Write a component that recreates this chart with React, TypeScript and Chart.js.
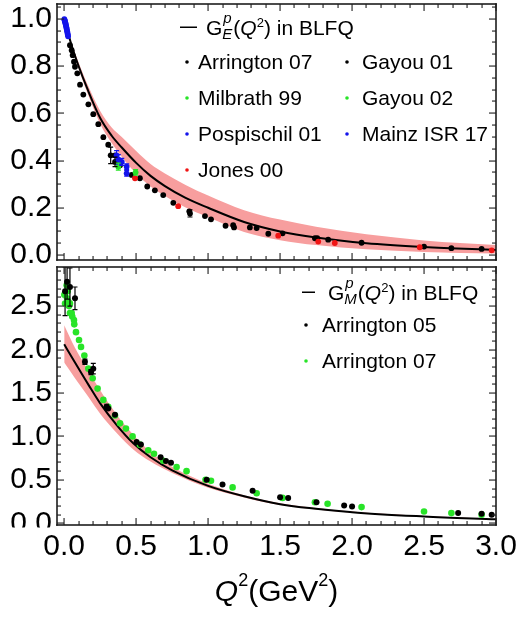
import React, { useEffect, useRef } from "react";
import { Chart, registerables } from "chart.js";
Chart.register(...registerables);

const FONT = '"Liberation Sans", Arial, Helvetica, sans-serif';
const C_BLACK = "#000000";
const C_GREEN = "rgb(40,228,40)";
const C_BLUE = "rgb(20,20,235)";
const C_RED = "rgb(240,20,20)";
const C_BAND = "rgb(247,158,158)";
const C_FRAME = "rgb(30,30,30)";

// ---------- axis ranges / ticks ----------
const X_RANGE = [-0.05, 3.0];
const X_TICK_STEP = 0.5;
const TOP_Y_RANGE = [-0.021, 1.0625];
const TOP_Y_STEP = 0.2;
const BOT_Y_RANGE = [-0.02, 2.95];
const BOT_Y_STEP = 0.5;

// ---------- top panel: G_E^p ----------
const GE_THEORY_Q2 = [0, 0.05, 0.1, 0.16, 0.25, 0.33, 0.4, 0.5, 0.6, 0.7, 0.84, 1.0, 1.25, 1.5, 1.75, 2.1, 2.5, 3.0];
const GE_THEORY = [1.0, 0.89, 0.8, 0.705, 0.58, 0.505, 0.455, 0.39, 0.335, 0.292, 0.243, 0.2, 0.14, 0.1, 0.074, 0.05, 0.034, 0.021];
const GE_BAND_UP = [1.0, 0.9, 0.815, 0.725, 0.61, 0.54, 0.5, 0.44, 0.385, 0.345, 0.298, 0.252, 0.19, 0.15, 0.12, 0.088, 0.062, 0.042];
const GE_BAND_LO = [1.0, 0.882, 0.788, 0.688, 0.555, 0.474, 0.415, 0.345, 0.29, 0.25, 0.202, 0.16, 0.098, 0.063, 0.042, 0.024, 0.013, 0.006];

const ARR07_GE_Q2 = [0.04, 0.052, 0.059, 0.068, 0.075, 0.091, 0.11, 0.133, 0.168, 0.202, 0.237, 0.272, 0.306, 0.323, 0.353, 0.353, 0.388];
const ARR07_GE = [0.888, 0.867, 0.846, 0.818, 0.797, 0.769, 0.721, 0.679, 0.638, 0.596, 0.554, 0.499, 0.467, 0.422, 0.422, 0.394, 0.38];
const ARR07_GE_ERR = [0, 0, 0, 0, 0, 0, 0, 0, 0, 0, 0, 0, 0, 0.035, 0, 0.02, 0];

const GAYOU01_Q2 = [0.469, 0.526, 0.577, 0.63, 0.688, 0.758, 0.869, 0.874, 0.978, 1.02, 1.121, 1.174, 1.18, 1.29, 1.337, 1.418, 1.517, 1.742, 1.758, 1.834, 2.066, 2.5, 2.69, 2.9];
const GAYOU01_GE = [0.339, 0.325, 0.29, 0.274, 0.254, 0.221, 0.185, 0.176, 0.165, 0.151, 0.124, 0.126, 0.117, 0.117, 0.114, 0.09, 0.092, 0.071, 0.071, 0.065, 0.052, 0.036, 0.029, 0.026];
const GAYOU01_ERR = [0, 0, 0, 0, 0, 0, 0, 0.015, 0, 0, 0, 0, 0, 0, 0, 0, 0, 0, 0, 0, 0, 0, 0, 0];

const MILBRATH99_Q2 = [0.376];
const MILBRATH99_GE = [0.374];
const MILBRATH99_ERR = [0.015];

const GAYOU02_Q2 = [0.496];
const GAYOU02_GE = [0.35];
const GAYOU02_ERR = [0.012];

const POSPISCHIL01_Q2 = [0.364, 0.376, 0.4, 0.434, 0.434];
const POSPISCHIL01_GE = [0.422, 0.405, 0.394, 0.374, 0.346];
const POSPISCHIL01_ERR = [0.02, 0.02, 0.015, 0.012, 0.012];

const MAINZ17_Q2 = [0.001, 0.003, 0.005, 0.007, 0.009, 0.011, 0.013, 0.015, 0.017, 0.019, 0.021, 0.023, 0.025, 0.027];
const MAINZ17_GE = [0.998, 0.994, 0.99, 0.985, 0.98, 0.975, 0.97, 0.964, 0.958, 0.952, 0.946, 0.94, 0.933, 0.926];

const JONES00_Q2 = [0.492, 0.792, 1.487, 1.765, 1.88, 2.47, 2.97];
const JONES00_GE = [0.325, 0.207, 0.082, 0.057, 0.051, 0.033, 0.02];

// ---------- bottom panel: G_M^p ----------
const GM_THEORY_Q2 = [0, 0.075, 0.17, 0.25, 0.365, 0.48, 0.6, 0.75, 1.0, 1.25, 1.5, 2.0, 2.5, 3.0];
const GM_THEORY = [2.06, 1.85, 1.59, 1.38, 1.13, 0.92, 0.76, 0.61, 0.43, 0.31, 0.22, 0.128, 0.078, 0.045];
const GM_BAND_UP = [2.28, 2.02, 1.75, 1.53, 1.25, 1.02, 0.82, 0.65, 0.455, 0.322, 0.23, 0.135, 0.083, 0.049];
const GM_BAND_LO = [1.85, 1.67, 1.45, 1.26, 1.04, 0.85, 0.71, 0.58, 0.41, 0.298, 0.21, 0.12, 0.072, 0.04];

const ARR05_Q2 = [0.006, 0.02, 0.04, 0.075, 0.144, 0.186, 0.202, 0.295, 0.306, 0.353, 0.503, 0.533, 0.67, 0.707, 0.742, 0.99, 1.1, 1.309, 1.5, 1.556, 1.753, 1.945, 2.0, 2.737, 2.9, 2.97];
const ARR05_GM = [2.67, 2.78, 2.72, 2.59, 1.86, 1.74, 1.78, 1.34, 1.32, 1.25, 0.935, 0.906, 0.76, 0.716, 0.697, 0.5, 0.447, 0.375, 0.3, 0.292, 0.242, 0.205, 0.193, 0.117, 0.11, 0.099];
const ARR05_ERR = [0.28, 0.2, 0.22, 0.13, 0.03, 0.03, 0.06, 0.03, 0, 0, 0, 0, 0, 0, 0, 0, 0, 0, 0, 0, 0, 0, 0, 0, 0, 0];

const ARR07_GM_Q2 = [0.001, 0.006, 0.017, 0.02, 0.024, 0.029, 0.033, 0.04, 0.04, 0.052, 0.056, 0.068, 0.07, 0.082, 0.103, 0.117, 0.14, 0.168, 0.198, 0.232, 0.272, 0.306, 0.353, 0.388, 0.429, 0.475, 0.526, 0.584, 0.624, 0.688, 0.781, 0.85, 0.982, 1.02, 1.17, 1.337, 1.517, 1.742, 1.83, 2.066, 2.5, 2.69, 2.9];
const ARR07_GM = [2.63, 2.53, 2.74, 2.59, 2.67, 2.55, 2.5, 2.53, 2.42, 2.42, 2.38, 2.34, 2.29, 2.2, 2.11, 2.03, 1.93, 1.78, 1.67, 1.55, 1.42, 1.34, 1.24, 1.15, 1.09, 1.0, 0.905, 0.84, 0.8, 0.72, 0.648, 0.6, 0.5, 0.49, 0.413, 0.345, 0.292, 0.242, 0.224, 0.186, 0.136, 0.117, 0.099];

// ---------- labels ----------
const TOP_LEGEND_ROWS = [
  [["Arrington 07", C_BLACK], ["Gayou 01", C_BLACK]],
  [["Milbrath 99", C_GREEN], ["Gayou 02", C_GREEN]],
  [["Pospischil 01", C_BLUE], ["Mainz ISR 17", C_BLUE]],
  [["Jones 00", C_RED]],
];
const BOT_LEGEND_ROWS = [["Arrington 05", C_BLACK], ["Arrington 07", C_GREEN]];

function pts(xs: number[], ys: number[]) {
  return xs.map((x, i) => ({ x, y: ys[i] }));
}

function scatterSet(label: string, xs: number[], ys: number[], color: string, r: number, errs?: number[]) {
  return {
    label,
    data: pts(xs, ys),
    showLine: false,
    pointRadius: r,
    pointBorderWidth: 0,
    pointBackgroundColor: color,
    pointBorderColor: color,
    borderColor: color,
    backgroundColor: color,
    errs: errs || null,
    order: 0,
  } as any;
}

function bandSets(xs: number[], up: number[], lo: number[], curve: number[]) {
  return [
    {
      label: "curve",
      data: pts(xs, curve),
      borderColor: "#000",
      borderWidth: 2,
      pointRadius: 0,
      fill: false,
      cubicInterpolationMode: "monotone",
      order: 1,
    },
    {
      label: "band-up",
      data: pts(xs, up),
      borderWidth: 0,
      borderColor: "rgba(0,0,0,0)",
      backgroundColor: C_BAND,
      pointRadius: 0,
      fill: "+1",
      cubicInterpolationMode: "monotone",
      order: 2,
    },
    {
      label: "band-lo",
      data: pts(xs, lo),
      borderWidth: 0,
      borderColor: "rgba(0,0,0,0)",
      pointRadius: 0,
      fill: false,
      cubicInterpolationMode: "monotone",
      order: 3,
    },
  ] as any[];
}

type Run = { t?: string; size: number; italic?: boolean; dy?: number; sup?: string; sub?: string; supDy?: number; subDy?: number };

function runsWidth(ctx: CanvasRenderingContext2D, runs: Run[]) {
  let w = 0;
  for (const r of runs) {
    if (r.sup !== undefined) {
      ctx.font = `italic ${r.size}px ${FONT}`;
      w += Math.max(ctx.measureText(r.sup!).width, ctx.measureText(r.sub!).width);
    } else {
      ctx.font = `${r.italic ? "italic " : ""}${r.size}px ${FONT}`;
      w += ctx.measureText(r.t!).width;
    }
  }
  return w;
}

function drawRuns(ctx: CanvasRenderingContext2D, x: number, y: number, runs: Run[]) {
  let cx = x;
  ctx.textAlign = "left";
  ctx.textBaseline = "alphabetic";
  for (const r of runs) {
    if (r.sup !== undefined) {
      ctx.font = `italic ${r.size}px ${FONT}`;
      ctx.fillText(r.sup!, cx + 1, y + (r.supDy || 0));
      ctx.fillText(r.sub!, cx, y + (r.subDy || 0));
      cx += Math.max(ctx.measureText(r.sup!).width + 1, ctx.measureText(r.sub!).width) + 1;
    } else {
      ctx.font = `${r.italic ? "italic " : ""}${r.size}px ${FONT}`;
      ctx.fillText(r.t!, cx, y + (r.dy || 0));
      cx += ctx.measureText(r.t!).width;
    }
  }
  return cx;
}

function drawFrame(chart: any, xMinor: number, xMajorEvery: number, yMinor: number, yMajorEvery: number) {
  const ctx: CanvasRenderingContext2D = chart.ctx;
  const a = chart.chartArea;
  const xs = chart.scales.x;
  const ys = chart.scales.y;
  const L = Math.round(a.left), R = Math.round(a.right), T = Math.round(a.top), B = Math.round(a.bottom);
  ctx.save();
  ctx.globalAlpha = 1;
  ctx.globalCompositeOperation = "source-over";
  ctx.fillStyle = C_FRAME;
  const n0 = Math.ceil(X_RANGE[0] / xMinor - 1e-9);
  const n1 = Math.floor(X_RANGE[1] / xMinor + 1e-9);
  for (let i = n0; i <= n1; i++) {
    const px = Math.round(xs.getPixelForValue(i * xMinor));
    const len = Math.abs(i) % xMajorEvery === 0 ? 7 : 4;
    ctx.fillRect(px - 0.5, B - len, 1.1, len);
    ctx.fillRect(px - 0.5, T, 1.1, len);
  }
  const m0 = Math.ceil(ys.min / yMinor - 1e-9);
  const m1 = Math.floor(ys.max / yMinor + 1e-9);
  for (let j = m0; j <= m1; j++) {
    const py = Math.round(ys.getPixelForValue(j * yMinor));
    const len = Math.abs(j) % yMajorEvery === 0 ? 7 : 4;
    ctx.fillRect(L, py - 0.5, len, 1.1);
    ctx.fillRect(R - len, py - 0.5, len, 1.1);
  }
  const w = 1.6;
  ctx.fillRect(L - w / 2, T - w / 2, R - L + w, w);
  ctx.fillRect(L - w / 2, B - w / 2, R - L + w, w);
  ctx.fillRect(L - w / 2, T - w / 2, w, B - T + w);
  ctx.fillRect(R - w / 2, T - w / 2, w, B - T + w);
  ctx.restore();
}

function drawErrorBars(chart: any) {
  const ctx: CanvasRenderingContext2D = chart.ctx;
  const ys = chart.scales.y;
  const a = chart.chartArea;
  ctx.save();
  ctx.beginPath();
  ctx.rect(a.left, a.top, a.right - a.left, a.bottom - a.top);
  ctx.clip();
  chart.data.datasets.forEach((ds: any, i: number) => {
    if (!ds.errs) return;
    const meta = chart.getDatasetMeta(i);
    ctx.strokeStyle = ds.pointBackgroundColor;
    ctx.lineWidth = 1.2;
    ctx.beginPath();
    ds.errs.forEach((e: number, j: number) => {
      if (!e) return;
      const el = meta.data[j];
      const v = ds.data[j].y;
      const y1 = ys.getPixelForValue(v + e);
      const y2 = ys.getPixelForValue(v - e);
      ctx.moveTo(el.x, y1);
      ctx.lineTo(el.x, y2);
      ctx.moveTo(el.x - 2.5, y1);
      ctx.lineTo(el.x + 2.5, y1);
      ctx.moveTo(el.x - 2.5, y2);
      ctx.lineTo(el.x + 2.5, y2);
    });
    ctx.stroke();
  });
  ctx.restore();
}

function legendDot(ctx: CanvasRenderingContext2D, x: number, y: number, color: string) {
  ctx.fillStyle = color;
  ctx.beginPath();
  ctx.arc(x, y, 1.8, 0, Math.PI * 2);
  ctx.fill();
}

const topDecor = {
  id: "topDecor",
  afterDraw(chart: any) {
    drawErrorBars(chart);
    drawFrame(chart, 0.1, 5, 0.05, 4);
    const ctx: CanvasRenderingContext2D = chart.ctx;
    ctx.save();
    ctx.fillStyle = "#000";
    ctx.fillRect(180, 26.5, 17, 1.5);
    drawRuns(ctx, 206, 35, [
      { t: "G", size: 21 },
      { sup: "p", sub: "E", size: 15, supDy: -12, subDy: 4 },
      { t: "(", size: 21 },
      { t: "Q", size: 21, italic: true },
      { t: "2", size: 13, dy: -8 },
      { t: ") in BLFQ", size: 21 },
    ]);
    const baselines = [69, 105, 141, 177];
    const cols = [[187, 198], [347, 362]];
    TOP_LEGEND_ROWS.forEach((row, ri) => {
      row.forEach((item, ci) => {
        const [label, color] = item as [string, string];
        legendDot(ctx, cols[ci][0], baselines[ri] - 7, color);
        ctx.fillStyle = "#000";
        ctx.font = `21px ${FONT}`;
        ctx.textAlign = "left";
        ctx.textBaseline = "alphabetic";
        ctx.fillText(label, cols[ci][1], baselines[ri]);
      });
    });
    ctx.restore();
  },
};

const bottomDecor = {
  id: "bottomDecor",
  afterDraw(chart: any) {
    drawErrorBars(chart);
    drawFrame(chart, 0.1, 5, 0.1, 5);
    const ctx: CanvasRenderingContext2D = chart.ctx;
    const a = chart.chartArea;
    const ys = chart.scales.y;
    ctx.save();
    ctx.beginPath();
    ctx.rect(0, 0, a.left, a.bottom + 2.5);
    ctx.clip();
    ctx.fillStyle = "#000";
    ctx.font = `30px ${FONT}`;
    ctx.textAlign = "right";
    ctx.textBaseline = "middle";
    ctx.fillText((0).toFixed(1), a.left - 5, ys.getPixelForValue(0));
    ctx.restore();

    ctx.save();
    ctx.fillStyle = "#000";
    ctx.fillRect(302, 28.5, 13, 1.5);
    drawRuns(ctx, 328, 37, [
      { t: "G", size: 21 },
      { sup: "p", sub: "M", size: 15, supDy: -12, subDy: 4 },
      { t: "(", size: 21 },
      { t: "Q", size: 21, italic: true },
      { t: "2", size: 13, dy: -8 },
      { t: ") in BLFQ", size: 21 },
    ]);
    const baselines = [69, 105];
    BOT_LEGEND_ROWS.forEach(([label, color], i) => {
      legendDot(ctx, 306, baselines[i] - 7, color);
      ctx.fillStyle = "#000";
      ctx.font = `21px ${FONT}`;
      ctx.textAlign = "left";
      ctx.textBaseline = "alphabetic";
      ctx.fillText(label, 322, baselines[i]);
    });
    const runs: Run[] = [
      { t: "Q", size: 30, italic: true },
      { t: "2", size: 18, dy: -15 },
      { t: "(GeV", size: 30 },
      { t: "2", size: 18, dy: -15 },
      { t: ")", size: 30 },
    ];
    const w = runsWidth(ctx, runs);
    ctx.fillStyle = "#000";
    drawRuns(ctx, (a.left + a.right) / 2 - w / 2, 338, runs);
    ctx.restore();
  },
};

function yTicks(step: number, hideZero: boolean) {
  return {
    stepSize: step,
    includeBounds: false,
    autoSkip: false,
    padding: 5,
    color: "#000",
    font: { family: FONT, size: 30 },
    callback: (v: any) => (hideZero && Math.abs(Number(v)) < 1e-9 ? "" : Number(v).toFixed(1)),
  };
}

function topConfig(): any {
  return {
    type: "line",
    data: {
      datasets: [
        scatterSet("Mainz ISR 17", MAINZ17_Q2, MAINZ17_GE, C_BLUE, 2.9),
        scatterSet("Pospischil 01", POSPISCHIL01_Q2, POSPISCHIL01_GE, C_BLUE, 2.9, POSPISCHIL01_ERR),
        scatterSet("Jones 00", JONES00_Q2, JONES00_GE, C_RED, 2.9),
        scatterSet("Milbrath 99", MILBRATH99_Q2, MILBRATH99_GE, C_GREEN, 2.9, MILBRATH99_ERR),
        scatterSet("Gayou 02", GAYOU02_Q2, GAYOU02_GE, C_GREEN, 2.9, GAYOU02_ERR),
        scatterSet("Arrington 07", ARR07_GE_Q2, ARR07_GE, C_BLACK, 2.9, ARR07_GE_ERR),
        scatterSet("Gayou 01", GAYOU01_Q2, GAYOU01_GE, C_BLACK, 2.9, GAYOU01_ERR),
        ...bandSets(GE_THEORY_Q2, GE_BAND_UP, GE_BAND_LO, GE_THEORY),
      ],
    },
    options: {
      responsive: false,
      animation: false,
      devicePixelRatio: 1,
      layout: { padding: { left: 0, right: 23, top: 3, bottom: 1 } },
      plugins: { legend: { display: false }, tooltip: { enabled: false }, title: { display: false } },
      scales: {
        x: { type: "linear", min: X_RANGE[0], max: X_RANGE[1], display: false },
        y: {
          type: "linear",
          min: TOP_Y_RANGE[0],
          max: TOP_Y_RANGE[1],
          grid: { display: false, drawTicks: false },
          border: { display: false },
          ticks: yTicks(TOP_Y_STEP, false),
          afterFit: (s: any) => {
            s.width = 57;
            s.paddingTop = 0;
            s.paddingBottom = 0;
          },
        },
      },
    },
    plugins: [topDecor],
  };
}

function botConfig(): any {
  return {
    type: "line",
    data: {
      datasets: [
        scatterSet("Arrington 05", ARR05_Q2, ARR05_GM, C_BLACK, 3.0, ARR05_ERR),
        scatterSet("Arrington 07", ARR07_GM_Q2, ARR07_GM, C_GREEN, 3.3),
        ...bandSets(GM_THEORY_Q2, GM_BAND_UP, GM_BAND_LO, GM_THEORY),
      ],
    },
    options: {
      responsive: false,
      animation: false,
      devicePixelRatio: 1,
      layout: { padding: { left: 0, right: 23, top: 1, bottom: 0 } },
      plugins: { legend: { display: false }, tooltip: { enabled: false }, title: { display: false } },
      scales: {
        x: {
          type: "linear",
          position: "bottom",
          min: X_RANGE[0],
          max: X_RANGE[1],
          grid: { display: false, drawTicks: false },
          border: { display: false },
          ticks: {
            stepSize: X_TICK_STEP,
            includeBounds: false,
            autoSkip: false,
            maxRotation: 0,
            padding: 4,
            color: "#000",
            font: { family: FONT, size: 30 },
            callback: (v: any) => Number(v).toFixed(1),
          },
          afterFit: (s: any) => {
            s.height = 93;
            s.paddingLeft = 0;
            s.paddingRight = 0;
          },
        },
        y: {
          type: "linear",
          min: BOT_Y_RANGE[0],
          max: BOT_Y_RANGE[1],
          grid: { display: false, drawTicks: false },
          border: { display: false },
          ticks: yTicks(BOT_Y_STEP, true),
          afterFit: (s: any) => {
            s.width = 57;
            s.paddingTop = 0;
            s.paddingBottom = 0;
          },
        },
      },
    },
    plugins: [bottomDecor],
  };
}

export default function App() {
  const topRef = useRef<HTMLCanvasElement>(null);
  const botRef = useRef<HTMLCanvasElement>(null);
  useEffect(() => {
    const c2 = new Chart(botRef.current as HTMLCanvasElement, botConfig());
    const c1 = new Chart(topRef.current as HTMLCanvasElement, topConfig());
    return () => {
      c1.destroy();
      c2.destroy();
    };
  }, []);
  return (
    <div style={{ position: "absolute", left: 0, top: 0, width: 519, height: 618, background: "#ffffff", overflow: "hidden" }}>
      <canvas
        ref={botRef}
        width={519}
        height={355}
        style={{ position: "absolute", left: 0, top: 263, width: 519, height: 355 }}
      />
      <canvas
        ref={topRef}
        width={519}
        height={264}
        style={{ position: "absolute", left: 0, top: 0, width: 519, height: 264 }}
      />
    </div>
  );
}
